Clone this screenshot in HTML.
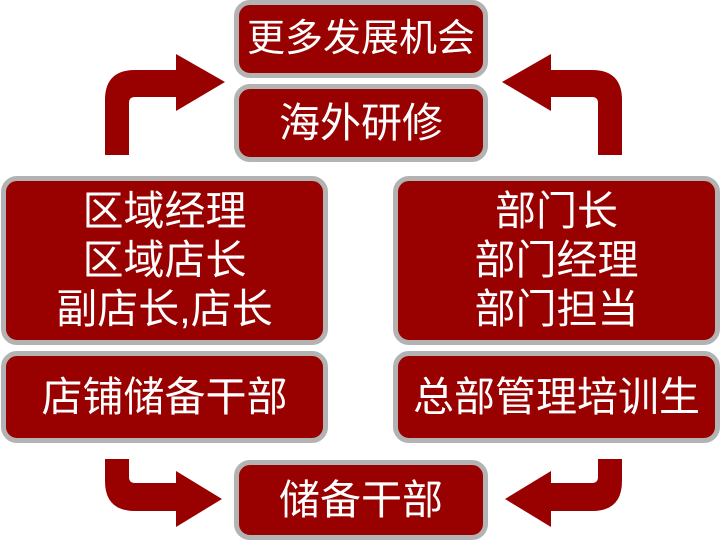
<!DOCTYPE html>
<html><head><meta charset="utf-8"><style>
body{margin:0;width:720px;height:540px;background:#fff;position:relative;overflow:hidden;font-family:"Liberation Sans","Noto Sans CJK SC",sans-serif}
.b{position:absolute;box-sizing:border-box;border:5px solid #b3b3b3;background:#990000;border-radius:16px;color:#fff;display:flex;align-items:center;justify-content:center;text-align:center;font-size:41px;line-height:49px;white-space:nowrap}
svg{position:absolute;left:0;top:0}
</style></head><body>
<svg width="720" height="540">
<g id="a" fill="#990000">
<path d="M105 155 L105 100 Q105 70 135 70 L176 70 L176 54 L225 82 L176 111 L176 97 L135 97 Q129 97 129 103 L129 155 Z"/>
<path d="M105 459 L129 459 L129 477 Q129 483 135 483 L176 483 L176 471 L222 499 L176 527 L176 511 L135 511 Q105 511 105 481 Z"/>
</g>
<use href="#a" transform="translate(727,0) scale(-1,1)"/>
</svg>
<div class="b" style="left:234px;top:0;width:254px;height:78px;font-size:38px">更多发展机会</div>
<div class="b" style="left:234px;top:84px;width:254px;height:78px">海外研修</div>
<div class="b" style="left:1px;top:176px;width:327px;height:169px">区域经理<br>区域店长<br>副店长,店长</div>
<div class="b" style="left:1px;top:351px;width:327px;height:92px">店铺储备干部</div>
<div class="b" style="left:393px;top:176px;width:327px;height:169px">部门长<br>部门经理<br>部门担当</div>
<div class="b" style="left:393px;top:351px;width:327px;height:92px">总部管理培训生</div>
<div class="b" style="left:234px;top:460px;width:254px;height:80px">储备干部</div>
</body></html>
